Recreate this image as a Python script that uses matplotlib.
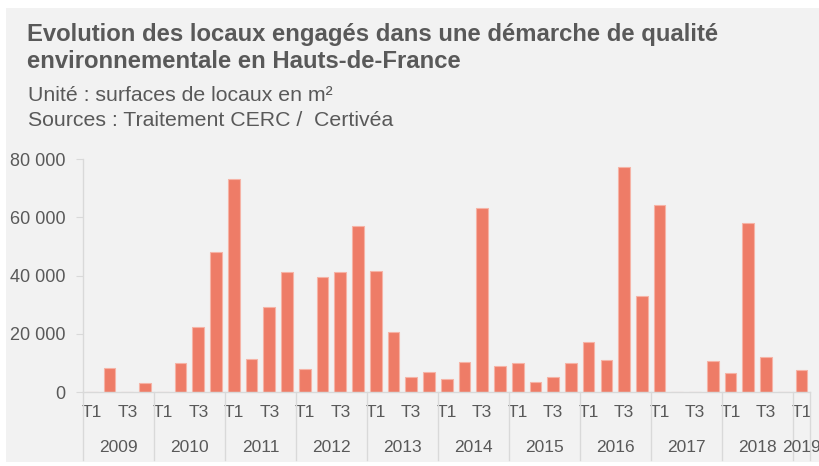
import matplotlib
matplotlib.use("Agg")
import matplotlib.pyplot as plt
from matplotlib.ticker import FuncFormatter
import matplotlib.transforms as mtransforms

# ---------------------------------------------------------------------
# Data (m², quarterly)
# ---------------------------------------------------------------------
YEARS = ["2009", "2010", "2011", "2012", "2013", "2014", "2015",
         "2016", "2017", "2018", "2019"]
QUARTERS = ["T1", "T2", "T3", "T4"]
N_QUARTERS_LAST = 1  # 2019 only has T1

VALUES = [
    0, 8200, 0, 3200,            # 2009
    0, 9900, 22300, 48100,       # 2010
    73000, 11500, 29400, 41100,  # 2011
    7900, 39400, 41400, 56900,   # 2012
    41600, 20700, 5300, 7100,    # 2013
    4700, 10400, 63100, 9100,    # 2014
    10100, 3400, 5400, 9900,     # 2015
    17400, 11100, 77300, 33000,  # 2016
    64200, 0, 0, 10700,          # 2017
    6700, 58000, 12000, 0,       # 2018
    7700,                        # 2019
]

TITLE_LINES = ["Evolution des locaux engagés dans une démarche de qualité",
               "environnementale en Hauts-de-France"]
SUB1 = "Unité : surfaces de locaux en m²"
SUB2 = "Sources : Traitement CERC /  Certivéa"

# ---------------------------------------------------------------------
# Style
# ---------------------------------------------------------------------
BG = "#F2F2F2"
BAR = "#EE7C67"
BAR_EDGE = "#F6B3A6"
TXT = "#595959"
LINE = "#D9D9D9"
plt.rcParams["font.family"] = ["Liberation Sans", "DejaVu Sans"]

W, H = 819, 466
fig = plt.figure(figsize=(W / 100, H / 100), dpi=100)
fig.patch.set_facecolor("white")
fig.patches.append(plt.Rectangle((6 / W, 4 / H), 1, 1 - 12 / H,
                                 transform=fig.transFigure,
                                 facecolor=BG, edgecolor="none", zorder=-10))

# header, placed by baseline
for line, base in zip(TITLE_LINES, (41, 68.5)):
    fig.text(27 / W, 1 - base / H, line, fontsize=17.2, fontweight="bold",
             color=TXT, va="baseline", ha="left")
fig.text(28 / W, 1 - 101 / H, SUB1, fontsize=15.3, color=TXT, va="baseline")
fig.text(28 / W, 1 - 126 / H, SUB2, fontsize=15.3, color=TXT, va="baseline")

# plot area
x0, x1 = 83, 810.4
y0, y1 = 392.3, 159
ax = fig.add_axes([x0 / W, 1 - y0 / H, (x1 - x0) / W, (y0 - y1) / H])
ax.set_facecolor("none")

labels = []
for y in YEARS:
    qs = QUARTERS if y != YEARS[-1] else QUARTERS[:N_QUARTERS_LAST]
    labels += [f"{y} {q}" for q in qs]
xs = list(range(len(VALUES)))

ax.bar(xs, VALUES, width=0.66, color=BAR, edgecolor=BAR_EDGE, linewidth=0.8)

ax.set_xlim(-0.5, len(VALUES) - 0.5)
ax.set_ylim(0, 80000)
ax.set_yticks(range(0, 80001, 20000))
ax.yaxis.set_major_formatter(FuncFormatter(lambda v, _: f"{int(v):,}".replace(",", " ")))
ax.tick_params(axis="y", length=5, color=LINE, labelsize=13, labelcolor=TXT, pad=7.4)

# quarter labels: T1 and T3 only
qticks = [i for i, l in enumerate(labels) if l.endswith("T1") or l.endswith("T3")]
ax.set_xticks(qticks)
ax.set_xticklabels([labels[i].split()[1] for i in qticks])
ax.tick_params(axis="x", length=0, labelsize=12.5, labelcolor=TXT, pad=9)

for side in ("top", "right"):
    ax.spines[side].set_visible(False)
for side in ("left", "bottom"):
    ax.spines[side].set_color(LINE)
    ax.spines[side].set_linewidth(1)

# year groups
trans = mtransforms.blended_transform_factory(ax.transData, ax.transAxes)
sep_bottom = -(460 - y0) / (y0 - y1)
start = 0
for y in YEARS:
    n = 4 if y != YEARS[-1] else N_QUARTERS_LAST
    ax.plot([start - 0.5, start - 0.5], [0, sep_bottom], color=LINE, lw=1,
            transform=trans, clip_on=False)
    ax.text(start + (n - 1) / 2, -(448 - y0) / (y0 - y1), y, transform=trans,
            ha="center", va="center", fontsize=12.5, color=TXT)
    start += n
ax.plot([start - 0.5, start - 0.5], [0, sep_bottom], color=LINE, lw=1,
        transform=trans, clip_on=False)

fig.savefig("out.png", dpi=100, facecolor=fig.get_facecolor())
